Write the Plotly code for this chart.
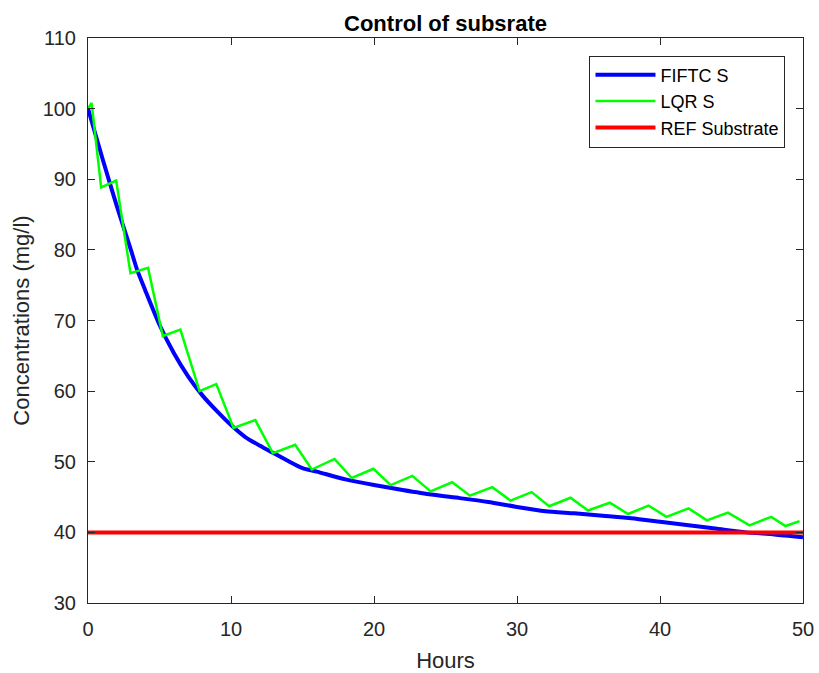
import plotly.graph_objects as go

# FIFTC S (blue)
fiftc_t = [0, 1, 2, 3, 3.43, 4, 5, 6, 7, 8, 9, 10, 11, 12, 13, 14, 15, 16, 18, 20,
           22, 24, 26, 28, 30, 32, 34, 36, 38, 40, 42, 44, 46, 48, 50]
fiftc_s = [100, 93.0, 86.3, 80.0, 77.2, 74.3, 69.4, 65.4, 62.1, 59.4, 57.2, 55.2, 53.5,
           52.3, 51.2, 50.1, 49.1, 48.6, 47.5, 46.7, 46.0, 45.35, 44.85, 44.3, 43.6,
           43.0, 42.7, 42.35, 42.0, 41.5, 41.0, 40.5, 40.0, 39.7, 39.3]

# LQR S (green)
lqr_t = [0, 0.25, 0.92, 1.97, 2.97, 4.2, 5.23, 6.46, 7.8, 8.97, 10.18, 11.7, 12.93,
         14.49, 15.65, 17.24, 18.45, 19.96, 21.17, 22.68, 23.96, 25.47, 26.71, 28.27,
         29.55, 31.02, 32.25, 33.74, 34.97, 36.49, 37.77, 39.2, 40.45, 42.0, 43.28,
         44.75, 46.26, 47.78, 48.78, 49.76]
lqr_s = [100, 100.8, 88.85, 89.8, 76.7, 77.45, 67.8, 68.7, 60.0, 61.0, 54.8, 55.9, 51.2,
         52.4, 48.9, 50.4, 47.7, 49.0, 46.7, 48.0, 45.8, 47.1, 45.2, 46.4,
         44.5, 45.7, 43.7, 44.9, 43.1, 44.2, 42.6, 43.8, 42.2, 43.4, 41.7,
         42.8, 41.0, 42.2, 40.9, 41.6]

# REF Substrate (red)
ref_t = [0, 50]
ref_s = [40, 40]

x_ticks = [0, 10, 20, 30, 40, 50]
y_ticks = [30, 40, 50, 60, 70, 80, 90, 100, 110]

FONT = "Liberation Sans, Arial, Helvetica, sans-serif"
AX = "#262626"

fig = go.Figure()
fig.add_trace(go.Scatter(x=fiftc_t, y=fiftc_s, mode="lines", name="FIFTC S",
                         line=dict(color="#0000ff", width=4, shape="spline", smoothing=0.6)))
fig.add_trace(go.Scatter(x=lqr_t, y=lqr_s, mode="lines", name="LQR S",
                         line=dict(color="#00ff00", width=2.5)))
fig.add_trace(go.Scatter(x=ref_t, y=ref_s, mode="lines", name="REF Substrate",
                         line=dict(color="#ff0000", width=4)))

axis_common = dict(
    showgrid=False, zeroline=False, showline=True, linecolor=AX, linewidth=1,
    mirror="ticks", ticks="inside", ticklen=7, tickcolor=AX, tickwidth=1,
    tickfont=dict(family=FONT, size=20, color=AX), automargin=False,
)

fig.update_layout(
    width=819, height=673,
    paper_bgcolor="white", plot_bgcolor="white",
    margin=dict(l=88, r=16, t=38, b=70),
    title=dict(text="<b>Control of subsrate</b>", x=0.5, xref="paper", xanchor="center",
               y=0.966, yanchor="middle", font=dict(family=FONT, size=22, color="black")),
    xaxis=dict(range=[0, 50], tickvals=x_ticks, ticklabelstandoff=8,
               title=dict(text="Hours", font=dict(family=FONT, size=22, color=AX), standoff=20),
               **axis_common),
    yaxis=dict(range=[30, 110], tickvals=y_ticks, ticklabelstandoff=7,
               title=dict(text="Concentrations (mg/l)", font=dict(family=FONT, size=22, color=AX), standoff=6),
               **axis_common),
    legend=dict(x=0.9755, xanchor="right", y=0.969, yanchor="top",
                bgcolor="white", bordercolor=AX, borderwidth=1,
                font=dict(family=FONT, size=18, color="black"),
                itemwidth=60, tracegroupgap=0),
    showlegend=True,
)

fig.write_html("out.html", config={"displayModeBar": False},
               post_script="document.body.style.margin='0';")
